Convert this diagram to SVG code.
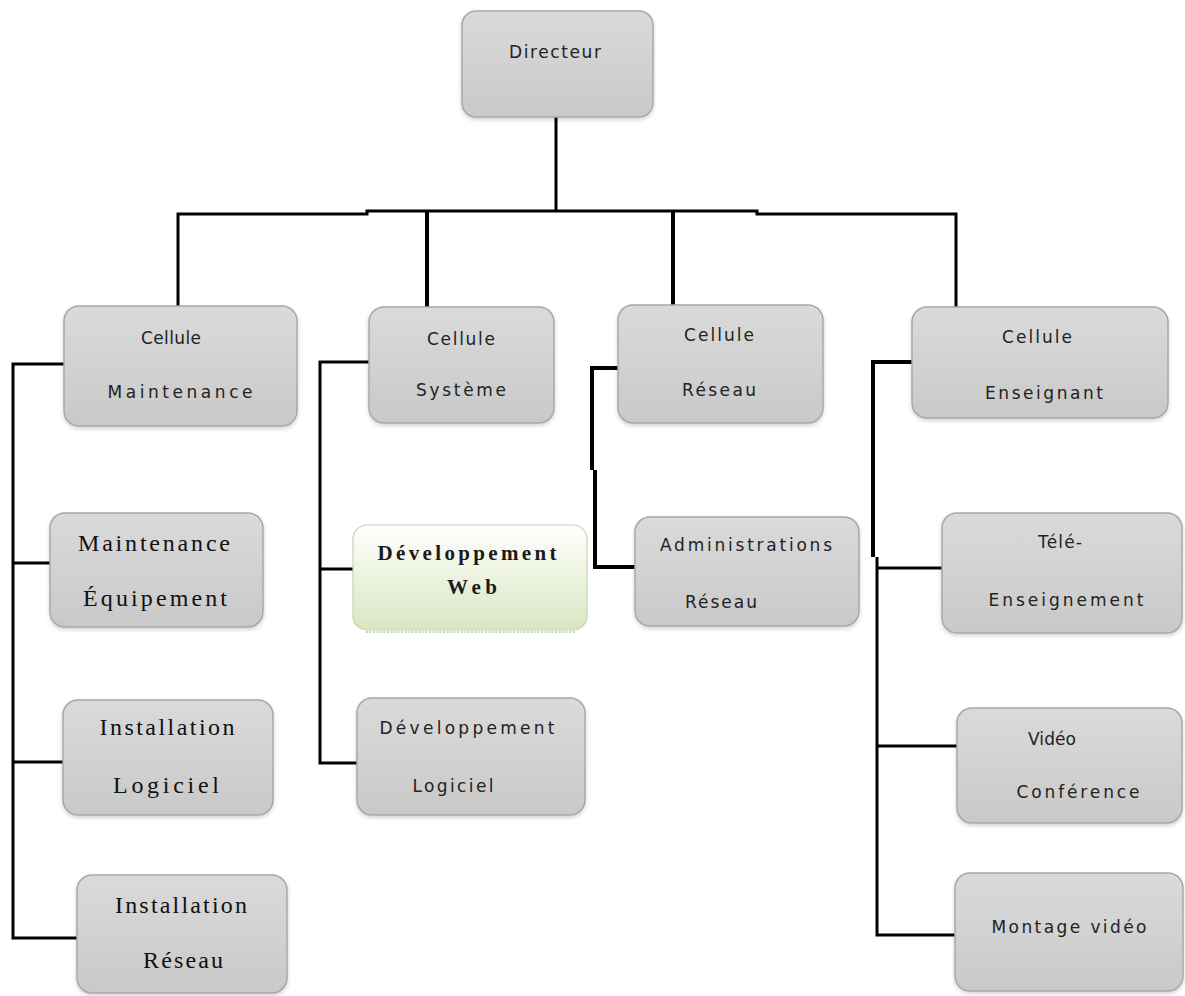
<svg xmlns="http://www.w3.org/2000/svg" width="1185" height="996" viewBox="0 0 1185 996">
  <defs>
    <linearGradient id="greyFill" x1="0" y1="0" x2="0" y2="1">
      <stop offset="0" stop-color="#dadada"/>
      <stop offset="1" stop-color="#c9c9c9"/>
    </linearGradient>
    <linearGradient id="greenFill" x1="0" y1="0" x2="0" y2="1">
      <stop offset="0" stop-color="#ffffff"/>
      <stop offset="1" stop-color="#d9e6c0"/>
    </linearGradient>
    <filter id="soft" x="-10%" y="-10%" width="120%" height="130%">
      <feGaussianBlur in="SourceAlpha" stdDeviation="2"/>
      <feOffset dx="0" dy="2" result="b"/>
      <feComponentTransfer><feFuncA type="linear" slope="0.18"/></feComponentTransfer>
      <feMerge><feMergeNode/><feMergeNode in="SourceGraphic"/></feMerge>
    </filter>
  </defs>
  <style>
    .box { fill: url(#greyFill); stroke: #a8a8a8; stroke-width: 1.5; filter: url(#soft); }
    .web { fill: url(#greenFill); stroke: #c8d4b0; stroke-width: 1.2; }
    .sans { font-family: "DejaVu Sans", "Liberation Sans", sans-serif; font-size: 17px; fill: #222; text-anchor: middle; }
    .serif { font-family: "Liberation Serif", "DejaVu Serif", serif; font-size: 24px; fill: #111; text-anchor: middle; }
    .bold { font-family: "Liberation Serif", "DejaVu Serif", serif; font-size: 21px; font-weight: bold; fill: #1a1a1a; text-anchor: middle; }
    .wire { fill: none; stroke: #000; stroke-width: 3; stroke-linejoin: miter; }
    .thick { stroke-width: 4; }
  </style>
  <rect width="1185" height="996" fill="#ffffff"/>

  <g id="connectors">
    <!-- trunk from the director to the four cells -->
    <path class="wire" d="M556,117 V211"/>
    <path class="wire" d="M178,306 V214 H367 V211 H757 V214 H956 V307"/>
    <path class="wire thick" d="M427,211 V307"/>
    <path class="wire thick" d="M673,211 V305"/>
    <!-- Cellule Maintenance branch -->
    <path class="wire" d="M64,364 H13 V938 H77"/>
    <path class="wire" d="M13,563 H50"/>
    <path class="wire" d="M13,762 H63"/>
    <!-- Cellule Système branch -->
    <path class="wire" d="M369,362 H320 V763 H357"/>
    <path class="wire" d="M320,569 H353"/>
    <!-- Cellule Réseau branch -->
    <path class="wire thick" d="M618,368 H592 V470"/>
    <path class="wire thick" d="M595,470 V567 H635"/>
    <!-- Cellule Enseignant branch -->
    <path class="wire thick" d="M912,362 H873 V557"/>
    <path class="wire" d="M877,557 V935 H955"/>
    <path class="wire" d="M877,568 H942"/>
    <path class="wire" d="M877,746 H957"/>
  </g>

  <g id="directeur">
    <rect class="box" x="462" y="11" width="191" height="106" rx="14"/>
    <text class="sans" x="555" y="58" textLength="92" lengthAdjust="spacing">Directeur</text>
  </g>

  <g id="cellule-maintenance">
    <rect class="box" x="64" y="306" width="233" height="120" rx="15"/>
    <text class="sans" x="171" y="344" textLength="60" lengthAdjust="spacing">Cellule</text>
    <text class="sans" x="180" y="398" textLength="145" lengthAdjust="spacing">Maintenance</text>
  </g>

  <g id="cellule-systeme">
    <rect class="box" x="369" y="307" width="185" height="116" rx="15"/>
    <text class="sans" x="461" y="345" textLength="68" lengthAdjust="spacing">Cellule</text>
    <text class="sans" x="461" y="396" textLength="90" lengthAdjust="spacing">Système</text>
  </g>

  <g id="cellule-reseau">
    <rect class="box" x="618" y="305" width="205" height="118" rx="15"/>
    <text class="sans" x="719" y="341" textLength="70" lengthAdjust="spacing">Cellule</text>
    <text class="sans" x="719" y="396" textLength="74" lengthAdjust="spacing">Réseau</text>
  </g>

  <g id="cellule-enseignant">
    <rect class="box" x="912" y="307" width="256" height="111" rx="15"/>
    <text class="sans" x="1037" y="343" textLength="70" lengthAdjust="spacing">Cellule</text>
    <text class="sans" x="1044" y="399" textLength="118" lengthAdjust="spacing">Enseignant</text>
  </g>

  <g id="maintenance-equipement">
    <rect class="box" x="50" y="513" width="213" height="114" rx="15"/>
    <text class="serif" x="154" y="551" textLength="152" lengthAdjust="spacing">Maintenance</text>
    <text class="serif" x="155" y="606" textLength="144" lengthAdjust="spacing">Équipement</text>
  </g>

  <g id="installation-logiciel">
    <rect class="box" x="63" y="700" width="210" height="115" rx="15"/>
    <text class="serif" x="167" y="735" textLength="135" lengthAdjust="spacing">Installation</text>
    <text class="serif" x="166" y="793" textLength="106" lengthAdjust="spacing">Logiciel</text>
  </g>

  <g id="installation-reseau">
    <rect class="box" x="77" y="875" width="210" height="118" rx="15"/>
    <text class="serif" x="181" y="913" textLength="132" lengthAdjust="spacing">Installation</text>
    <text class="serif" x="183" y="968" textLength="80" lengthAdjust="spacing">Réseau</text>
  </g>

  <g id="developpement-web">
    <rect class="web" x="353" y="525" width="234" height="105" rx="14"/>
    <line x1="366" y1="632" x2="575" y2="632" stroke="#9a9a9a" stroke-width="1" stroke-dasharray="2,1.5"/>
    <text class="bold" x="467" y="560" textLength="179" lengthAdjust="spacing">Développement</text>
    <text class="bold" x="472" y="594" textLength="50" lengthAdjust="spacing">Web</text>
  </g>

  <g id="developpement-logiciel">
    <rect class="box" x="357" y="698" width="228" height="117" rx="15"/>
    <text class="sans" x="467" y="734" textLength="175" lengthAdjust="spacing">Développement</text>
    <text class="sans" x="453" y="792" textLength="81" lengthAdjust="spacing">Logiciel</text>
  </g>

  <g id="administrations-reseau">
    <rect class="box" x="635" y="517" width="224" height="109" rx="15"/>
    <text class="sans" x="746" y="551" textLength="172" lengthAdjust="spacing">Administrations</text>
    <text class="sans" x="721" y="608" textLength="72" lengthAdjust="spacing">Réseau</text>
  </g>

  <g id="tele-enseignement">
    <rect class="box" x="942" y="513" width="240" height="120" rx="15"/>
    <text class="sans" x="1060" y="548" textLength="44" lengthAdjust="spacing">Télé-</text>
    <text class="sans" x="1066" y="606" textLength="155" lengthAdjust="spacing">Enseignement</text>
  </g>

  <g id="video-conference">
    <rect class="box" x="957" y="708" width="225" height="115" rx="15"/>
    <text class="sans" x="1052" y="745" textLength="48" lengthAdjust="spacing">Vidéo</text>
    <text class="sans" x="1078" y="798" textLength="123" lengthAdjust="spacing">Conférence</text>
  </g>

  <g id="montage-video">
    <rect class="box" x="955" y="873" width="228" height="118" rx="15"/>
    <text class="sans" x="1069" y="933" textLength="155" lengthAdjust="spacing">Montage vidéo</text>
  </g>
</svg>
